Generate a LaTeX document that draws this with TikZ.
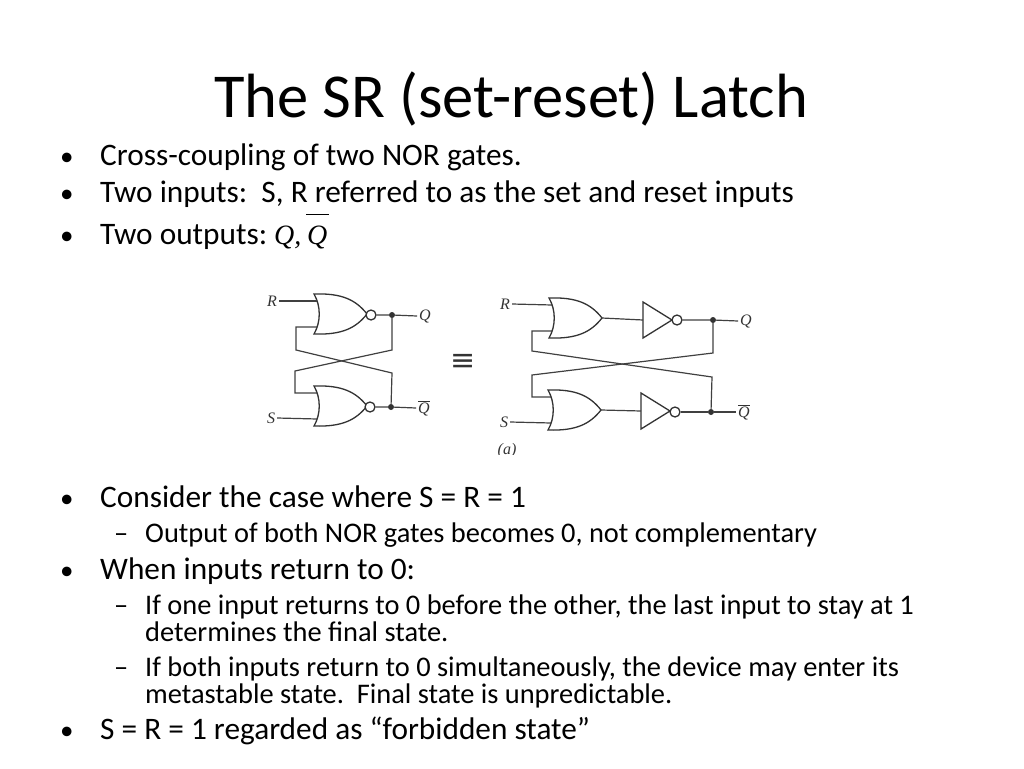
\documentclass[tikz,border=0pt]{standalone}
\usepackage{fontspec}
\setmainfont{Carlito}
\newfontfamily\labelfont{Liberation Serif}
\newfontfamily\symbolfont{DejaVu Sans}
\tikzstyle{titletext} = [anchor=base, inner sep=0pt, font=\fontsize{62.5}{66}\selectfont]
\tikzstyle{mainitem} = [anchor=base west, inner sep=0pt, font=\fontsize{31.3}{34}\selectfont]
\tikzstyle{subitem} = [anchor=base west, inner sep=0pt, font=\fontsize{28.4}{31}\selectfont]
\tikzstyle{dotitem} = [anchor=base west, inner sep=0pt, font=\fontsize{27}{30}\selectfont]
\tikzstyle{mathitem} = [anchor=base west, inner sep=0pt, font=\fontsize{28}{30}\labelfont\itshape]
\tikzstyle{pinlabel} = [inner sep=2pt, font=\fontsize{16}{17}\labelfont\itshape, black!80]
\tikzstyle{wire} = [line width=1.2pt, black!75]
\tikzstyle{gateline} = [line width=1.3pt, black!80]
\tikzstyle{bubble} = [circle, draw=black!80, fill=white, line width=1.3pt, inner sep=0pt, minimum size=10pt]
\tikzstyle{joint} = [circle, fill=black!80, inner sep=0pt, minimum size=6pt]
\tikzset{
  orgate/.pic={
    \draw [gateline] (0,-20) .. controls (7,-8) and (7,8) .. (0,20)
      .. controls (28,21) and (42,14) .. (53,0)
      .. controls (42,-14) and (28,-21) .. (0,-20) -- cycle;
    \coordinate (-in1) at (3,-13);
    \coordinate (-in2) at (3,13);
    \coordinate (-out) at (53,0);
  },
  invgate/.pic={
    \draw [gateline] (0,-18) -- (29,0) -- (0,18) -- cycle;
    \coordinate (-in) at (0,0);
    \coordinate (-out) at (29,0);
  }
}
\begin{document}
\begin{tikzpicture}[x=1pt, y=-1pt]
    \useasboundingbox (0,0) rectangle (1024,768);
    % heading and upper list
    \node (title) [titletext] at (511,117) {The SR (set-reset) Latch};
    \node (b1) [dotitem] at (60,165) {•};
    \node (t1) [mainitem] at (100,165) {Cross-coupling of two NOR gates.};
    \node (b2) [dotitem] at (60,202) {•};
    \node (t2) [mainitem] at (100,202) {Two inputs:\ \ S, R referred to as the set and reset inputs};
    \node (b3) [dotitem] at (60,244) {•};
    \node (t3) [mainitem] at (100,244) {Two outputs:};
    \node (q1) [mathitem] at (274,244) {Q,};
    \node (q2) [mathitem] at (306,244) {$\overline{\mbox{\rule{0pt}{28pt}\kern1pt Q\kern2pt}}$};
    % lower list
    \node (b4) [dotitem] at (60,507) {•};
    \node (t4) [mainitem] at (100,507) {Consider the case where S = R = 1};
    \node (d1) [subitem] at (114,542) {–};
    \node (s1) [subitem] at (145,542) {Output of both NOR gates becomes 0, not complementary};
    \node (b5) [dotitem] at (60,579) {•};
    \node (t5) [mainitem] at (100,579) {When inputs return to 0:};
    \node (d2) [subitem] at (114,614) {–};
    \node (s2) [subitem] at (145,614) {If one input returns to 0 before the other, the last input to stay at 1};
    \node (s2b) [subitem] at (145,641) {determines the final state.};
    \node (d3) [subitem] at (114,676) {–};
    \node (s3) [subitem] at (145,676) {If both inputs return to 0 simultaneously, the device may enter its};
    \node (s3b) [subitem] at (145,703) {metastable state.\ \ Final state is unpredictable.};
    \node (b6) [dotitem] at (60,739) {•};
    \node (t6) [mainitem] at (100,739) {S = R = 1 regarded as “forbidden state”};
    % left latch
    \pic (norA) at (314,314) {orgate};
    \pic (norB) at (314,406) {orgate};
    \node (bubA) [bubble] at (371,315) {};
    \node (bubB) [bubble] at (370,407) {};
    \node (inR) [pinlabel] at (272,301) {R};
    \node (inS) [pinlabel] at (271,418) {S};
    \node (outQ) [pinlabel] at (425,316) {Q};
    \node (outNQ) [pinlabel] at (424,408) {$\overline{\mbox{\labelfont\itshape Q}}$};
    \node (dotQ) [joint] at (392,315) {};
    \node (dotNQ) [joint] at (391,407) {};
    \coordinate (a1) at (296,327);
    \coordinate (a2) at (296,350);
    \coordinate (a3) at (392,373);
    \coordinate (a4) at (295,393);
    \coordinate (a5) at (295,371);
    \coordinate (a6) at (392,350);
    \draw [wire] (inR.east) -- (norA-in1);
    \draw [wire] (inS.east) -- (norB-in2);
    \draw [wire] (bubA) -- (dotQ) -- (outQ.west);
    \draw [wire] (bubB) -- (dotNQ) -- (outNQ.west);
    \draw [wire] (norA-in2) -- (a1) -- (a2) -- (a3) -- (dotNQ);
    \draw [wire] (norB-in1) -- (a4) -- (a5) -- (a6) -- (dotQ);
    \node (same) [inner sep=0pt, black!80, font=\fontsize{30}{32}\symbolfont] at (463,362) {≡};
    % right latch
    \pic (orA) at (549,318) {orgate};
    \pic (orB) at (548,410) {orgate};
    \pic (notA) at (643,320) {invgate};
    \pic (notB) at (641,411) {invgate};
    \node (bubC) [bubble] at (677,320) {};
    \node (bubD) [bubble] at (675,412) {};
    \node (inR2) [pinlabel] at (505,304) {R};
    \node (inS2) [pinlabel] at (504,422) {S};
    \node (outQ2) [pinlabel] at (746,321) {Q};
    \node (outNQ2) [pinlabel] at (744,412) {$\overline{\mbox{\labelfont\itshape Q}}$};
    \node (dotQ2) [joint] at (713,320) {};
    \node (dotNQ2) [joint] at (711,412) {};
    \coordinate (c1) at (532,331);
    \coordinate (c2) at (532,351);
    \coordinate (c3) at (712,377);
    \coordinate (c4) at (532,397);
    \coordinate (c5) at (532,375);
    \coordinate (c6) at (713,353);
    \draw [wire] (inR2.east) -- (orA-in1);
    \draw [wire] (inS2.east) -- (orB-in2);
    \draw [wire] (orA-out) -- (notA-in);
    \draw [wire] (orB-out) -- (notB-in);
    \draw [wire] (bubC) -- (dotQ2) -- (outQ2.west);
    \draw [wire] (bubD) -- (dotNQ2) -- (outNQ2.west);
    \draw [wire] (orA-in2) -- (c1) -- (c2) -- (c3) -- (dotNQ2);
    \draw [wire] (orB-in1) -- (c4) -- (c5) -- (c6) -- (dotQ2);
    % caption is cut off in the source
    \begin{scope}
        \clip (490,440) rectangle (530,454);
        \node (part) [pinlabel] at (507,451) {(a)};
    \end{scope}
\end{tikzpicture}
\end{document}
